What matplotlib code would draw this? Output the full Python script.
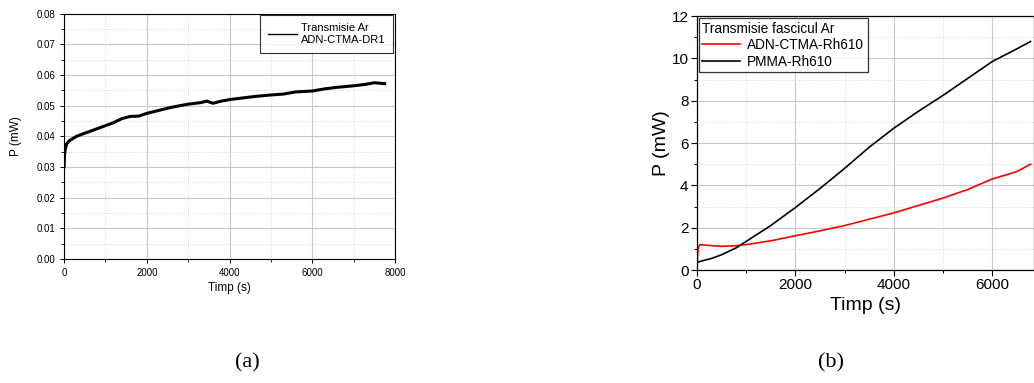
import matplotlib.pyplot as plt
from matplotlib.ticker import MultipleLocator

plt.rcParams['font.family'] = ['Liberation Sans', 'DejaVu Sans']

# (a) transmisie Ar, ADN-CTMA-DR1
t_a = [0, 10, 30, 60, 120, 200, 300, 450, 600, 800, 1000, 1200, 1400, 1600, 1800,
       2000, 2300, 2600, 3000, 3300, 3450, 3600, 3800, 4000, 4300, 4600, 5000,
       5300, 5600, 6000, 6300, 6600, 7000, 7300, 7500, 7750]
p_a = [0.030, 0.034, 0.0360, 0.0375, 0.0385, 0.0392, 0.0400, 0.0408, 0.0415,
       0.0425, 0.0435, 0.0445, 0.0458, 0.0465, 0.0466, 0.0475, 0.0485, 0.0495,
       0.0505, 0.0510, 0.0515, 0.0508, 0.0515, 0.0520, 0.0525, 0.0530, 0.0535,
       0.0538, 0.0545, 0.0548, 0.0555, 0.0560, 0.0565, 0.0570, 0.0575, 0.0572]

# (b) transmisie fascicul Ar
t_b = [0, 20, 60, 150, 300, 500, 800, 1000, 1200, 1500, 2000, 2500, 3000, 3500,
       4000, 4500, 5000, 5500, 6000, 6500, 6780]
p_adn = [0.0, 1.0, 1.2, 1.18, 1.15, 1.12, 1.15, 1.2, 1.27, 1.38, 1.62, 1.85,
         2.1, 2.4, 2.7, 3.05, 3.4, 3.8, 4.3, 4.65, 5.0]
p_pmma = [0.35, 0.37, 0.40, 0.46, 0.55, 0.72, 1.05, 1.35, 1.65, 2.1, 2.95, 3.85,
          4.8, 5.8, 6.7, 7.5, 8.25, 9.05, 9.85, 10.45, 10.8]

fig = plt.figure(figsize=(10.34, 3.83), dpi=100)

def grid_style(ax):
    ax.grid(True, which='major', color='#c8c8c8', linewidth=0.8)
    ax.grid(True, which='minor', color='#d0d0d0', linewidth=0.6, linestyle=':')
    ax.set_axisbelow(True)

ax1 = fig.add_axes([0.062, 0.324, 0.320, 0.640])
ax1.plot(t_a, p_a, color='black', linewidth=2.2)
ax1.set_xlim(0, 8000)
ax1.set_ylim(0, 0.08)
ax1.xaxis.set_major_locator(MultipleLocator(2000))
ax1.xaxis.set_minor_locator(MultipleLocator(1000))
ax1.yaxis.set_major_locator(MultipleLocator(0.01))
ax1.yaxis.set_minor_locator(MultipleLocator(0.005))
ax1.yaxis.set_major_formatter(plt.FormatStrFormatter('%.2f'))
ax1.tick_params(labelsize=7, direction='out', length=3, width=0.7)
ax1.tick_params(which='minor', direction='out', length=2, width=0.6)
ax1.set_xlabel('Timp (s)', fontsize=8.5, labelpad=3)
ax1.set_ylabel('P (mW)', fontsize=8.5, labelpad=10)
grid_style(ax1)
for s in ax1.spines.values():
    s.set_linewidth(0.8)
# legend drawn as a handle line plus two text rows
ax1.plot([], [], color='black', linewidth=1.0, label='Transmisie Ar\nADN-CTMA-DR1')
leg1 = ax1.legend(handles=[ax1.lines[1]], loc='upper right', fontsize=8,
                  frameon=True, fancybox=False, edgecolor='black',
                  handlelength=2.6, borderaxespad=0.15, borderpad=0.7,
                  handletextpad=0.4)
leg1.get_frame().set_linewidth(0.8)
for txt in leg1.get_texts():
    txt.set_multialignment('left')

ax2 = fig.add_axes([0.674, 0.295, 0.326, 0.663])
ax2.plot(t_b, p_adn, color='#ff0000', linewidth=1.2, label='ADN-CTMA-Rh610')
ax2.plot(t_b, p_pmma, color='black', linewidth=1.2, label='PMMA-Rh610')
ax2.set_xlim(0, 6850)
ax2.set_ylim(0, 12)
ax2.xaxis.set_major_locator(MultipleLocator(2000))
ax2.xaxis.set_minor_locator(MultipleLocator(1000))
ax2.yaxis.set_major_locator(MultipleLocator(2))
ax2.yaxis.set_minor_locator(MultipleLocator(1))
ax2.tick_params(labelsize=11, direction='out', length=4, width=0.8, pad=2)
ax2.tick_params(which='minor', direction='out', length=2.5, width=0.7)
ax2.set_xlabel('Timp (s)', fontsize=14, labelpad=3)
ax2.set_ylabel('P (mW)', fontsize=14, labelpad=1)
grid_style(ax2)
for s in ax2.spines.values():
    s.set_linewidth(0.9)
leg2 = ax2.legend(loc='upper left', title='Transmisie fascicul Ar', fontsize=9.8,
                  title_fontsize=9.8, frameon=True, fancybox=False,
                  edgecolor='black', handlelength=2.8, borderaxespad=0.15,
                  borderpad=0.25, labelspacing=0.2, handletextpad=0.5)
leg2.get_frame().set_linewidth(0.9)
leg2._legend_box.align = 'left'

fig.text(0.239, 0.04, '(a)', fontsize=16, family='Liberation Serif', ha='center')
fig.text(0.804, 0.04, '(b)', fontsize=16, family='Liberation Serif', ha='center')

fig.savefig('out.png', dpi=100)
